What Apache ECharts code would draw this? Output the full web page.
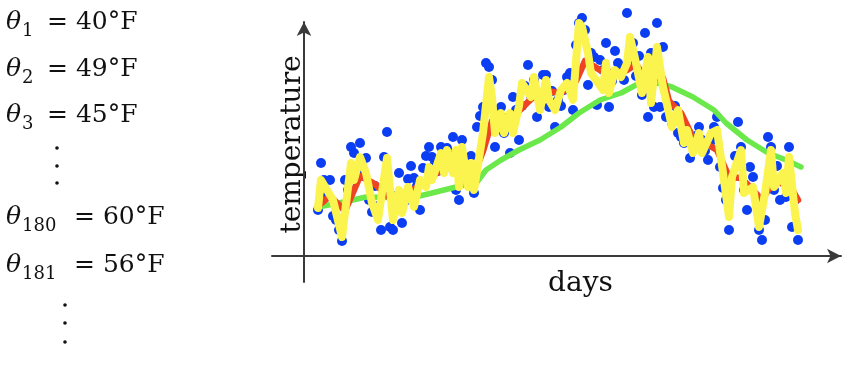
<!DOCTYPE html>
<html>
<head>
<meta charset="utf-8">
<script src="https://cdn.jsdelivr.net/npm/echarts@6/dist/echarts.min.js"></script>
<style>
html,body{margin:0;padding:0;background:#fff;}
#chart{width:863px;height:372px;}
</style>
</head>
<body>
<div id="chart"></div>
<script>
// Daily temperature readings (day index 0..160), height units
const temps = [46,93,76,60,76,40,36,26,15,76, 66,109,103,83,113,80,98,56,44,70,
  50,26,99,124,29,26,60,83,33,55, 77,90,78,70,46,88,100,109,99,93,
  85,109,95,108,100,119,66,56,116,90, 76,100,63,129,140,149,193,189,176,109,
  139,149,123,130,103,159,146,116,150,170, 191,160,176,139,160,181,181,149,165,129,
  156,150,166,179,183,146,211,233,238,226, 171,203,199,151,196,186,213,149,175,205,
  193,189,176,243,190,213,180,200,161,223, 139,203,149,233,149,209,139,139,133,150,
  123,119,113,125,98,110,120,129,116,105, 96,115,129,139,89,68,56,26,79,100,
  134,109,66,46,89,79,58,26,16,36, 119,109,66,90,56,80,59,109,29,56,
  16];

// Yellow (fast) moving average, read as vertices
const yellowDays = [0,1,3,5,8,11,12,14,16,18,20,23,25,27,28,30,32,34,36,37,38,41,42,43,45,46,47,48,50,51,52,55,57,58,59,61,62,64,65,67,68,71,72,74,76,77,79,81,83,85,87,88,90,91,95,96,97,99,101,103,104,106,108,110,111,113,115,116,118,120,122,123,125,127,128,131,133,135,137,138,141,142,145,147,149,151,152,155,156,157,159,160];
const yellowVals = [48,76,66,56,19,93,76,99,83,53,36,98,36,66,43,69,49,76,69,89,76,103,83,106,83,106,69,109,69,93,66,123,179,159,123,143,123,143,123,150,173,159,179,146,176,156,146,166,173,156,233,229,203,183,166,193,163,186,179,193,219,193,163,199,153,209,169,156,129,146,113,126,103,123,103,123,126,83,39,79,106,63,69,29,63,106,69,83,63,99,43,26];

// Red (medium) moving average
const redDays = [0,4,9,14,19,24,27,31,36,41,46,52,55,58,61,66,71,76,81,86,89,94,99,103,106,109,115,117,121,125,129,133,137,141,144,148,152,155,157,160];
const redVals = [50,60,45,80,72,58,55,65,75,86,90,82,105,135,138,142,157,165,163,175,195,186,183,186,192,178,178,155,143,118,113,106,79,78,69,56,76,72,72,56];

// Green (slow) moving average
const greenDays = [0,7,16,31,38,46,53,56,61,67,74,81,87,94,101,106,113,118,125,132,136,143,150,156,161];
const greenVals = [49,53,59,58,63,69,74,86,96,106,116,129,143,156,163,171,173,169,159,146,133,116,103,96,89];

// Left-hand list of readings
const thetaSubs = ['1','2','3','180','181'];
const thetaVals = ['40°F','49°F','45°F','60°F','56°F'];

const chart = echarts.init(document.getElementById('chart'), null, {renderer:'canvas'});

const baselines = [30,77,123,225,273];
const graphics = [];
const serif = 'DejaVu Serif';
thetaSubs.forEach((s, i) => {
  const b = baselines[i];
  const eqX = s.length > 1 ? 74 : 47;
  graphics.push({type:'text', x:6, y:b-8, style:{text:'θ', font:'italic 25px "'+serif+'"', fill:'#111', verticalAlign:'middle'}});
  graphics.push({type:'text', x:22, y:b+1, style:{text:s, font:'18px "'+serif+'"', fill:'#111', verticalAlign:'middle'}});
  graphics.push({type:'text', x:eqX, y:b-8, style:{text:'= ' + thetaVals[i], font:'25px "'+serif+'"', fill:'#111', verticalAlign:'middle'}});
});
[[57,148],[57,166],[57,183],[65,305],[65,323],[65,342]].forEach(p => {
  graphics.push({type:'circle', shape:{cx:p[0], cy:p[1], r:1.8}, style:{fill:'#111'}});
});

const axisLineStyle = {color:'#3a3a3a', width:2};

const option = {
  animation:false,
  backgroundColor:'#fff',
  grid:{left:272, right:22, top:22, bottom:90},
  xAxis:{
    type:'value', min:-15.333, max:174.333,
    axisLine:{onZero:true, lineStyle:axisLineStyle, symbol:['none','arrow'], symbolSize:[11,14]},
    axisTick:{show:false}, axisLabel:{show:false}, splitLine:{show:false},
    name:'days', nameLocation:'middle', nameGap:-12,
    nameTextStyle:{fontFamily:serif, fontSize:28, color:'#111', padding:[0,0,0,48]}
  },
  yAxis:{
    type:'value', min:-26, max:234, offset:-32,
    axisLine:{onZero:false, lineStyle:axisLineStyle, symbol:['none','arrow'], symbolSize:[11,14]},
    axisTick:{show:false}, axisLabel:{show:false}, splitLine:{show:false},
    name:'temperature', nameLocation:'middle', nameRotate:90, nameGap:-3,
    nameTextStyle:{fontFamily:serif, fontSize:28, color:'#111', padding:[0,0,0,15]}
  },
  graphic:graphics,
  series:[
    {type:'scatter', data:temps.map((v,i)=>[i,v]), symbolSize:10, clip:false,
     itemStyle:{color:'#0B3EF3', opacity:1}, z:2},
    {type:'line', data:greenDays.map((d,i)=>[d,greenVals[i]]), showSymbol:false, clip:false,
     lineStyle:{color:'#6BE84A', width:5.5, cap:'round', join:'round'}, z:3},
    {type:'line', data:redDays.map((d,i)=>[d,redVals[i]]), showSymbol:false, clip:false,
     lineStyle:{color:'#EE4424', width:6.5, cap:'round', join:'round'}, z:4},
    {type:'line', data:yellowDays.map((d,i)=>[d,yellowVals[i]]), showSymbol:false, clip:false,
     lineStyle:{color:'#FBF44E', width:8, cap:'round', join:'round'}, z:5}
  ]
};
chart.setOption(option);
</script>
</body>
</html>
